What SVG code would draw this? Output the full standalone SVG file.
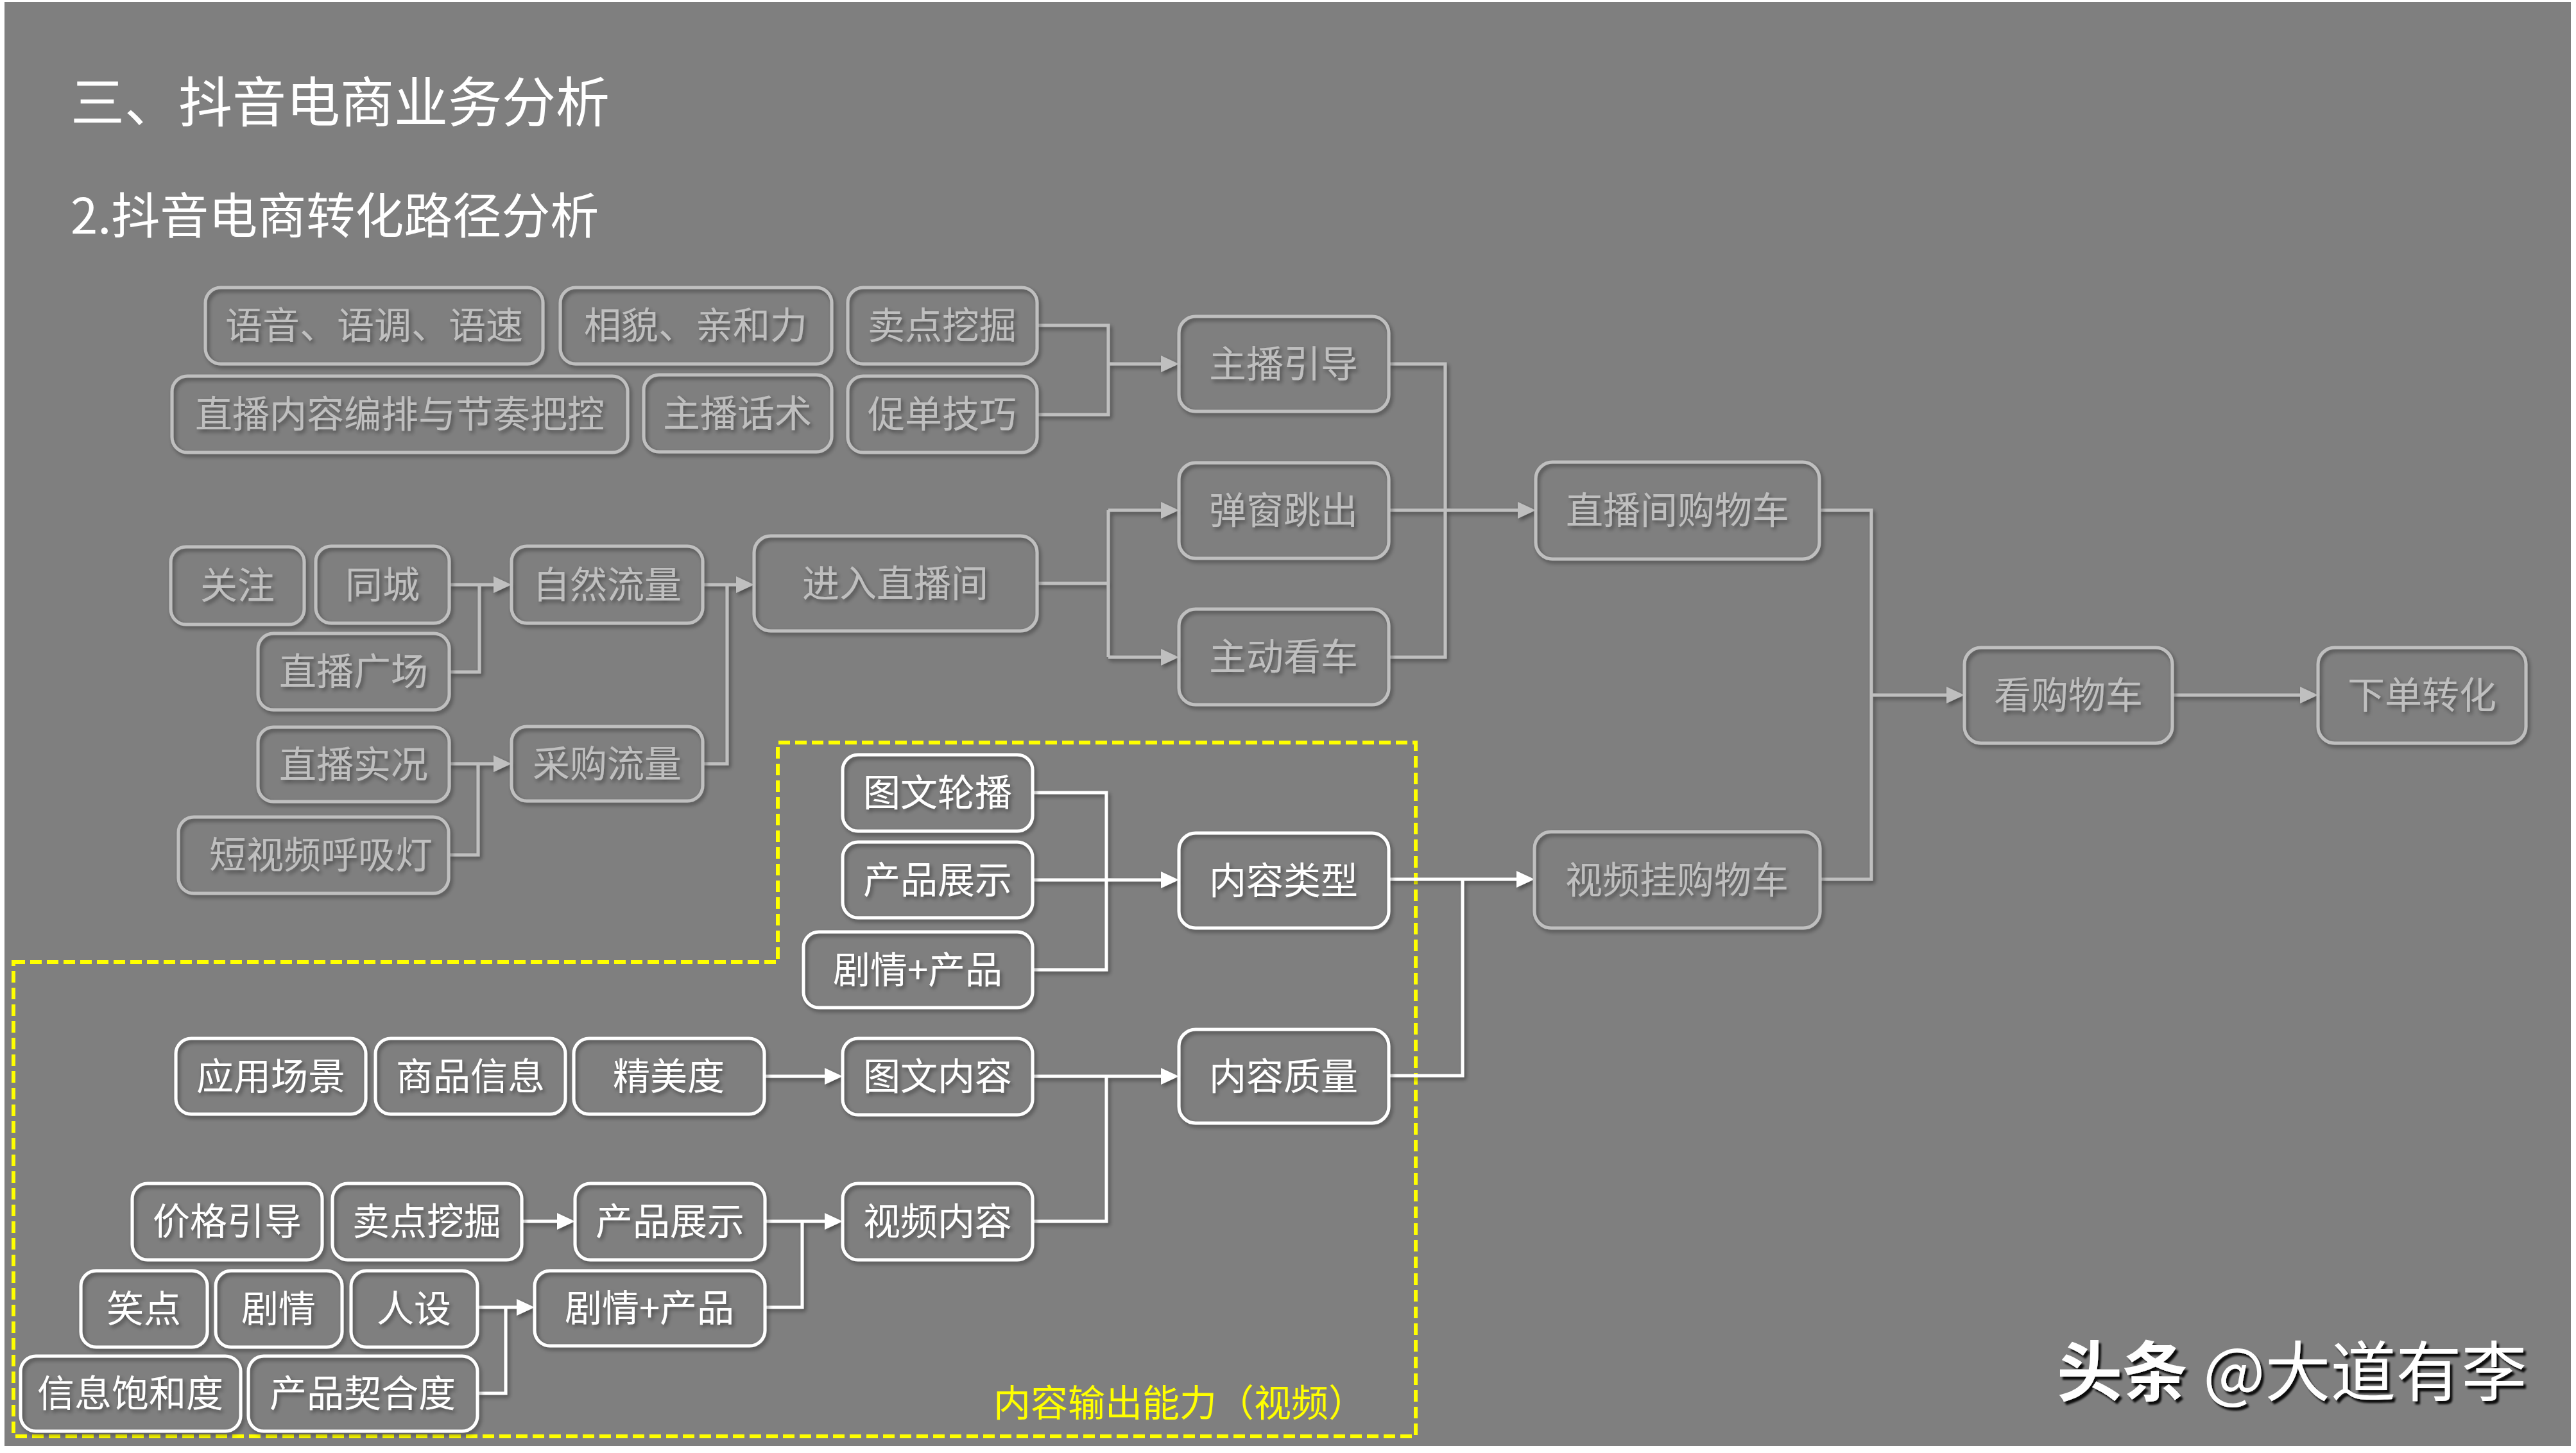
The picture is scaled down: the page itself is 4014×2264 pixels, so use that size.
<svg xmlns="http://www.w3.org/2000/svg" width="4014" height="2264" viewBox="0 0 4014 2264">
<style>
text{font-family:"Microsoft YaHei","Noto Sans CJK SC","Noto Sans",sans-serif;font-size:58px;text-anchor:middle}
.node rect{fill:none;stroke-width:5}
.g rect{stroke:#BFBFBF}
.g text{fill:#BFBFBF}
.w rect{stroke:#FFFFFF}
.w text{fill:#FFFFFF}
.cg path{fill:none;stroke:#BFBFBF;stroke-width:5}
.cw path{fill:none;stroke:#FFFFFF;stroke-width:5}
.ag{marker-end:url(#arrG)}
.aw{marker-end:url(#arrW)}
.title{fill:#FFFFFF;text-anchor:start}
</style>
<defs>
<filter id="sh" x="-10%" y="-20%" width="120%" height="150%">
<feDropShadow dx="3" dy="4" stdDeviation="3" flood-color="#000" flood-opacity="0.4"/>
</filter>
<filter id="wm" x="-5%" y="-20%" width="110%" height="150%">
<feDropShadow dx="4" dy="5" stdDeviation="1.5" flood-color="#000" flood-opacity="0.9"/>
</filter>
<marker id="arrG" markerUnits="userSpaceOnUse" markerWidth="28" markerHeight="28" refX="18" refY="13" orient="auto">
<path d="M0,0 L28,13 L0,26 z" fill="#BFBFBF"/>
</marker>
<marker id="arrW" markerUnits="userSpaceOnUse" markerWidth="28" markerHeight="28" refX="18" refY="13" orient="auto">
<path d="M0,0 L28,13 L0,26 z" fill="#FFFFFF"/>
</marker>
</defs>
<rect x="0" y="0" width="4014" height="2264" fill="#FFFFFF"/>
<rect x="7" y="3" width="3999" height="2250" fill="#7F7F7F"/>

<text class="title" x="110" y="190" style="font-size:84px">三、抖音电商业务分析</text>
<text class="title" x="110" y="364" style="font-size:76px">2.抖音电商转化路径分析</text>

<g id="video-region">
<polygon points="21,1499 1212,1499 1212,1157 2206,1157 2206,2238 21,2238" fill="none" stroke="#FFFF00" stroke-width="6" stroke-dasharray="18 8"/>
<text x="1548" y="2207" style="fill:#FFFF00;text-anchor:start">内容输出能力（视频）</text>
</g>

<g id="connectors" filter="url(#sh)">
<g class="cg">
<path d="M1616,507 H1727 V646 H1616"/>
<path class="ag" d="M1727,567 H1827"/>
<path d="M1616,909 H1727"/>
<path d="M1727,795 V1024"/>
<path class="ag" d="M1727,795 H1827"/>
<path class="ag" d="M1727,1024 H1827"/>
<path d="M2164,567 H2252 V1024 H2164"/>
<path d="M2164,795 H2252"/>
<path class="ag" d="M2252,795 H2383"/>
<path d="M2835,795 H2916 V1370 H2836"/>
<path class="ag" d="M2916,1083 H3051"/>
<path class="ag" d="M3385,1083 H3602"/>
<path d="M747,911 V1047 H700"/>
<path class="ag" d="M700,911 H787"/>
<path d="M745,1190 V1332 H699"/>
<path class="ag" d="M700,1190 H787"/>
<path d="M1133,911 V1190 H1095"/>
<path class="ag" d="M1095,911 H1165"/>
</g>
<g class="cw">
<path d="M1609,1235 H1724 V1511 H1609"/>
<path class="aw" d="M1609,1371 H1827"/>
<path class="aw" d="M1191,1677 H1303"/>
<path class="aw" d="M1609,1677 H1827"/>
<path d="M1724,1677 V1903 H1609"/>
<path class="aw" d="M813,1903 H886"/>
<path class="aw" d="M1192,1903 H1303"/>
<path d="M1250,1903 V2037 H1192"/>
<path class="aw" d="M744,2037 H823"/>
<path d="M788,2037 V2171 H744"/>
<path class="aw" d="M2164,1370 H2381"/>
<path d="M2279,1370 V1676 H2164"/>
</g>
</g>

<g id="n01" class="node g" filter="url(#sh)"><rect x="320" y="448" width="526" height="119" rx="24"/><text x="583" y="528">语音、语调、语速</text></g>
<g id="n02" class="node g" filter="url(#sh)"><rect x="873" y="448" width="423" height="119" rx="24"/><text x="1084" y="528">相貌、亲和力</text></g>
<g id="n03" class="node g" filter="url(#sh)"><rect x="1321" y="448" width="295" height="119" rx="24"/><text x="1468" y="528">卖点挖掘</text></g>
<g id="n04" class="node g" filter="url(#sh)"><rect x="268" y="586" width="710" height="119" rx="24"/><text x="623" y="666">直播内容编排与节奏把控</text></g>
<g id="n05" class="node g" filter="url(#sh)"><rect x="1003" y="584" width="293" height="120" rx="24"/><text x="1149" y="665">主播话术</text></g>
<g id="n06" class="node g" filter="url(#sh)"><rect x="1321" y="586" width="295" height="119" rx="24"/><text x="1468" y="666">促单技巧</text></g>
<g id="n07" class="node g" filter="url(#sh)"><rect x="1837" y="493" width="327" height="148" rx="26"/><text x="2000" y="588">主播引导</text></g>
<g id="n08" class="node g" filter="url(#sh)"><rect x="1837" y="721" width="327" height="149" rx="26"/><text x="2000" y="816">弹窗跳出</text></g>
<g id="n09" class="node g" filter="url(#sh)"><rect x="1837" y="949" width="327" height="149" rx="26"/><text x="2000" y="1044">主动看车</text></g>
<g id="n10" class="node g" filter="url(#sh)"><rect x="1175" y="835" width="441" height="148" rx="26"/><text x="1395" y="930">进入直播间</text></g>
<g id="n11" class="node g" filter="url(#sh)"><rect x="266" y="852" width="208" height="121" rx="24"/><text x="370" y="933">关注</text></g>
<g id="n12" class="node g" filter="url(#sh)"><rect x="492" y="851" width="208" height="120" rx="24"/><text x="596" y="932">同城</text></g>
<g id="n13" class="node g" filter="url(#sh)"><rect x="402" y="987" width="298" height="119" rx="24"/><text x="551" y="1067">直播广场</text></g>
<g id="n14" class="node g" filter="url(#sh)"><rect x="797" y="851" width="298" height="120" rx="24"/><text x="946" y="932">自然流量</text></g>
<g id="n15" class="node g" filter="url(#sh)"><rect x="402" y="1133" width="298" height="116" rx="24"/><text x="551" y="1212">直播实况</text></g>
<g id="n16" class="node g" filter="url(#sh)"><rect x="278" y="1273" width="421" height="119" rx="24"/><text x="500" y="1353">短视频呼吸灯</text></g>
<g id="n17" class="node g" filter="url(#sh)"><rect x="797" y="1132" width="298" height="116" rx="24"/><text x="946" y="1211">采购流量</text></g>
<g id="n18" class="node g" filter="url(#sh)"><rect x="2393" y="720" width="442" height="151" rx="26"/><text x="2614" y="816">直播间购物车</text></g>
<g id="n19" class="node g" filter="url(#sh)"><rect x="2391" y="1296" width="445" height="150" rx="26"/><text x="2613" y="1392">视频挂购物车</text></g>
<g id="n20" class="node g" filter="url(#sh)"><rect x="3061" y="1009" width="324" height="149" rx="26"/><text x="3223" y="1104">看购物车</text></g>
<g id="n21" class="node g" filter="url(#sh)"><rect x="3612" y="1009" width="324" height="149" rx="26"/><text x="3774" y="1104">下单转化</text></g>

<g id="n22" class="node w" filter="url(#sh)"><rect x="1313" y="1176" width="296" height="119" rx="24"/><text x="1461" y="1256">图文轮播</text></g>
<g id="n23" class="node w" filter="url(#sh)"><rect x="1313" y="1312" width="296" height="118" rx="24"/><text x="1461" y="1392">产品展示</text></g>
<g id="n24" class="node w" filter="url(#sh)"><rect x="1252" y="1452" width="357" height="118" rx="24"/><text x="1430" y="1532">剧情+产品</text></g>
<g id="n25" class="node w" filter="url(#sh)"><rect x="1837" y="1298" width="327" height="148" rx="26"/><text x="2000" y="1393">内容类型</text></g>
<g id="n26" class="node w" filter="url(#sh)"><rect x="1837" y="1604" width="327" height="146" rx="26"/><text x="2000" y="1698">内容质量</text></g>
<g id="n27" class="node w" filter="url(#sh)"><rect x="1313" y="1618" width="296" height="119" rx="24"/><text x="1461" y="1698">图文内容</text></g>
<g id="n28" class="node w" filter="url(#sh)"><rect x="1313" y="1844" width="296" height="119" rx="24"/><text x="1461" y="1924">视频内容</text></g>
<g id="n29" class="node w" filter="url(#sh)"><rect x="274" y="1618" width="296" height="118" rx="24"/><text x="422" y="1698">应用场景</text></g>
<g id="n30" class="node w" filter="url(#sh)"><rect x="585" y="1618" width="296" height="118" rx="24"/><text x="733" y="1698">商品信息</text></g>
<g id="n31" class="node w" filter="url(#sh)"><rect x="894" y="1618" width="297" height="118" rx="24"/><text x="1042" y="1698">精美度</text></g>
<g id="n32" class="node w" filter="url(#sh)"><rect x="206" y="1844" width="296" height="119" rx="24"/><text x="354" y="1924">价格引导</text></g>
<g id="n33" class="node w" filter="url(#sh)"><rect x="518" y="1844" width="295" height="119" rx="24"/><text x="665" y="1924">卖点挖掘</text></g>
<g id="n34" class="node w" filter="url(#sh)"><rect x="896" y="1844" width="296" height="119" rx="24"/><text x="1044" y="1924">产品展示</text></g>
<g id="n35" class="node w" filter="url(#sh)"><rect x="126" y="1980" width="197" height="119" rx="24"/><text x="224" y="2060">笑点</text></g>
<g id="n36" class="node w" filter="url(#sh)"><rect x="336" y="1980" width="197" height="119" rx="24"/><text x="434" y="2060">剧情</text></g>
<g id="n37" class="node w" filter="url(#sh)"><rect x="547" y="1980" width="197" height="119" rx="24"/><text x="645" y="2060">人设</text></g>
<g id="n38" class="node w" filter="url(#sh)"><rect x="833" y="1980" width="359" height="117" rx="24"/><text x="1012" y="2059">剧情+产品</text></g>
<g id="n39" class="node w" filter="url(#sh)"><rect x="32" y="2113" width="343" height="117" rx="24"/><text x="203" y="2192">信息饱和度</text></g>
<g id="n40" class="node w" filter="url(#sh)"><rect x="387" y="2113" width="357" height="117" rx="24"/><text x="565" y="2192">产品契合度</text></g>

<g id="watermark" filter="url(#wm)">
<text x="3205" y="2175" style="fill:#FFFFFF;text-anchor:start;font-size:102px"><tspan font-weight="bold">头条</tspan><tspan x="3433">@大道有李</tspan></text>
</g>
</svg>
